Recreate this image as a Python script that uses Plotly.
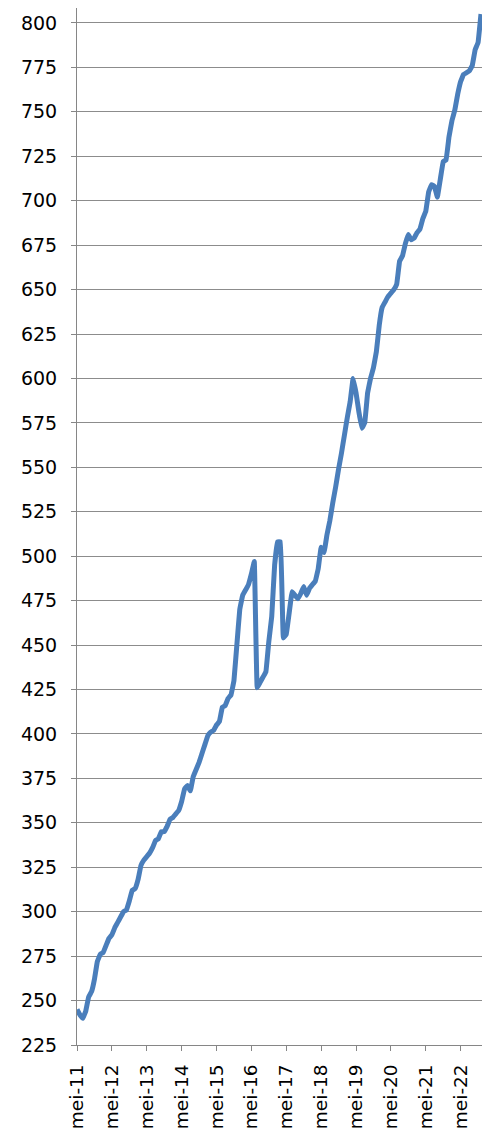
import plotly.graph_objects as go

month_names = ["mei", "jun", "jul", "aug", "sep", "okt", "nov", "dec",
               "jan", "feb", "mrt", "apr"]

values = [
    245, 242, 240, 244, 252, 255, 262, 272, 276, 277, 281, 285,   # mei-11 .. apr-12
    287, 291, 294, 297, 300, 301, 306, 312, 313, 318, 326, 329,   # mei-12 .. apr-13
    331, 333, 336, 340, 341, 345, 345, 348, 352, 353, 355, 357,   # mei-13 .. apr-14
    362, 369, 371, 368, 376, 380, 384, 389, 394, 399, 401, 402,   # mei-14 .. apr-15
    405, 407, 415, 416, 420, 422, 430, 450, 470, 478, 481, 484,   # mei-15 .. apr-16
    490, 497, 426, 429, 432, 435, 452, 466, 495, 508, 508, 454,   # mei-16 .. apr-17
    456, 468, 480, 478, 476, 479, 483, 478, 482, 484, 486, 493,   # mei-17 .. apr-18
    505, 502, 512, 520, 530, 539, 549, 558, 568, 578, 587, 600,   # mei-18 .. apr-19
    592, 581, 572, 575, 592, 600, 606, 615, 630, 640, 643, 646,   # mei-19 .. apr-20
    648, 650, 653, 666, 669, 676, 681, 678, 679, 682, 684, 690,   # mei-20 .. apr-21
    694, 705, 709, 708, 702, 712, 722, 723, 736, 745, 751, 760,   # mei-21 .. apr-22
    767, 771, 772, 773, 776, 785, 789, 805,                       # mei-22 .. dec-22
]

start_year = 11
months = []
for i in range(len(values)):
    yr = start_year + (i + 4) // 12
    months.append(f"{month_names[i % 12]}-{yr:02d}")

tick_labels = [m for m in months if m.startswith("mei")]
y_ticks = list(range(225, 801, 25))

fig = go.Figure()
fig.add_trace(go.Scatter(
    x=months, y=values, mode="lines",
    line=dict(color="#4a7ebb", width=5, shape="spline", smoothing=0.15),
    showlegend=False, hoverinfo="x+y",
))

# page has an 8px body margin; figure is sized to fill the rest of the window
W, H = 486, 1125
L, R, T, B = 69, 12, 0, 88
pw, ph = W - L - R, H - T - B

fig.update_layout(
    width=W, height=H,
    margin=dict(l=L, r=R, t=T, b=B, pad=0, autoexpand=False),
    paper_bgcolor="white", plot_bgcolor="white",
    font=dict(family="DejaVu Sans", size=18, color="#000000"),
    xaxis=dict(
        type="category", automargin=False,
        range=[0, len(values) - 1 + 0.35],
        tickmode="array", tickvals=tick_labels, ticktext=tick_labels,
        tickangle=-90,
        ticks="outside", ticklen=5, tickcolor="#868686", tickwidth=1,
        showgrid=False, zeroline=False,
        showline=True, linecolor="#868686", linewidth=1,
        ticklabelstandoff=6,
        tickfont=dict(family="DejaVu Sans", size=18.5, color="#000000"),
    ),
    yaxis=dict(
        automargin=False,
        range=[225, 808.4],
        tickmode="array", tickvals=y_ticks,
        ticks="outside", ticklen=5, tickcolor="#868686", tickwidth=1,
        showgrid=True, gridcolor="#8c8c8c", gridwidth=1,
        zeroline=False,
        showline=True, linecolor="#868686", linewidth=1,
        ticklabelstandoff=10,
        tickfont=dict(family="DejaVu Sans", size=19, color="#000000"),
    ),
    shapes=[
        dict(type="line", xref="paper", yref="paper",
             x0=(483 - L) / pw, x1=(483 - L) / pw,
             y0=-B / ph, y1=1 + T / ph,
             line=dict(color="#8c8c8c", width=1.5)),
    ],
)

fig.write_html("out.html")
